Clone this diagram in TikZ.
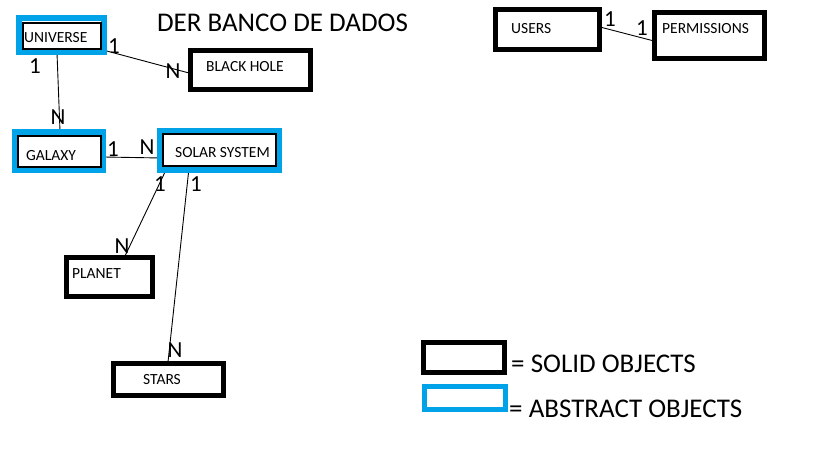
\documentclass[tikz,border=0pt]{standalone}
\usepackage{fontspec}
\setmainfont{Carlito}
\definecolor{paintblue}{HTML}{00A2E8}
\tikzset{
  solidbox/.style={draw=black, line width=5pt, inner sep=0pt, fill=white},
  absbox/.style={draw=paintblue, line width=6pt, inner sep=0pt, fill=white},
  absinner/.style={draw=black, line width=2.5pt, inner sep=0pt},
  boxtext/.style={anchor=west, inner sep=0pt, font=\fontsize{15.5}{18}\selectfont},
  card/.style={inner sep=0pt, font=\fontsize{23}{26}\selectfont},
  legendtext/.style={anchor=west, inner sep=0pt, font=\fontsize{27}{30}\selectfont},
  link/.style={draw=black, line width=0.9pt},
}
\begin{document}
\begin{tikzpicture}[x=1pt,y=-1pt]
\useasboundingbox (0,0) rectangle (819,460);
\fill[white] (0,0) rectangle (819,460);

% title
\node[inner sep=0pt, font=\fontsize{27}{30}\selectfont] (title) at (282.5,23) {DER BANCO DE DADOS};

% connectors (drawn first, boxes on top)
\coordinate (uniE) at (103,50);
\coordinate (bhW) at (189,73);
\coordinate (uniS) at (57,53);
\coordinate (galN) at (60,131);
\coordinate (galE) at (104,157);
\coordinate (solW) at (161,158);
\coordinate (solSa) at (166,170);
\coordinate (plaN) at (125,256);
\coordinate (solSb) at (189,168);
\coordinate (staN) at (168,362);
\coordinate (usrE) at (600,27);
\coordinate (perW) at (654,41);
\draw[link] (uniE) -- (bhW);
\draw[link] (uniS) -- (galN);
\draw[link] (galE) -- (solW);
\draw[link] (solSa) -- (plaN);
\draw[link] (solSb) -- (staN);
\draw[link] (usrE) -- (perW);

% abstract boxes
\node[absbox, minimum width=85pt, minimum height=34pt] (uni) at (61.5,35) {};
\node[absinner, minimum width=78pt, minimum height=26pt] (uniin) at (62,36) {};
\node[boxtext] (unit) at (24,38) {UNIVERSE};

\node[absbox, minimum width=88pt, minimum height=38pt] (gal) at (59,151) {};
\node[absinner, minimum width=83pt, minimum height=31pt] (galin) at (59.5,151.5) {};
\node[boxtext] (galt) at (26,156) {GALAXY};

\node[absbox, minimum width=119pt, minimum height=39pt] (sol) at (219.5,150.5) {};
\node[absinner, minimum width=113pt, minimum height=32pt] (solin) at (219.5,150) {};
\node[boxtext] (solt) at (175,153) {SOLAR SYSTEM};

% solid boxes
\node[solidbox, minimum width=120pt, minimum height=39pt] (bh) at (250.5,70) {};
\node[boxtext] (bht) at (206,67) {BLACK HOLE};

\node[solidbox, minimum width=104pt, minimum height=40pt] (usr) at (547.5,29.5) {};
\node[boxtext] (usrt) at (511,29) {USERS};

\node[solidbox, minimum width=110pt, minimum height=46pt] (per) at (709.5,35.5) {};
\node[boxtext] (pert) at (662,29) {PERMISSIONS};

\node[solidbox, minimum width=86pt, minimum height=39pt] (pla) at (109.5,277) {};
\node[boxtext] (plat) at (72,274) {PLANET};

\node[solidbox, minimum width=110pt, minimum height=32pt] (sta) at (168.5,379.5) {};
\node[boxtext] (stat) at (143,380) {STARS};

% cardinalities
\node[card] (c1) at (114,46) {1};
\node[card] (c2) at (173,71) {N};
\node[card] (c3) at (35,66) {1};
\node[card] (c4) at (58,117) {N};
\node[card] (c5) at (113,149) {1};
\node[card] (c6) at (147,147) {N};
\node[card] (c7) at (160,184) {1};
\node[card] (c8) at (196,184) {1};
\node[card] (c9) at (122,246) {N};
\node[card] (c10) at (175,350) {N};
\node[card] (c11) at (610,19) {1};
\node[card] (c12) at (642,28) {1};

% legend
\node[solidbox, minimum width=81pt, minimum height=30pt] (legs) at (464,357.5) {};
\node[legendtext] (legst) at (511,364) {= SOLID OBJECTS};
\node[draw=paintblue, line width=5pt, inner sep=0pt, minimum width=81pt, minimum height=23pt] (lega) at (465,398) {};
\node[legendtext] (legat) at (509,409) {= ABSTRACT OBJECTS};
\end{tikzpicture}
\end{document}
